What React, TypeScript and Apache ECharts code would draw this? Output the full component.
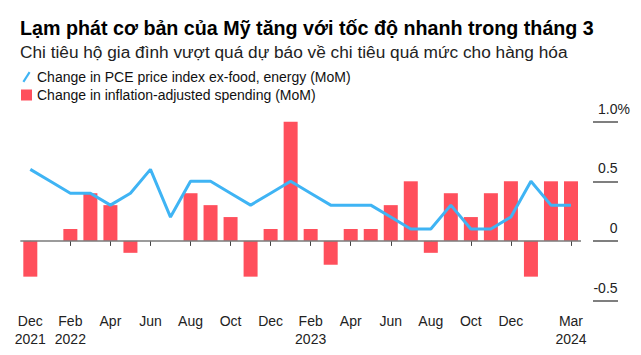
import React, { useEffect, useRef } from 'react';
import * as echarts from 'echarts';

const months = [
  'Dec\n2021', 'Jan', 'Feb\n2022', 'Mar', 'Apr', 'May', 'Jun', 'Jul', 'Aug', 'Sep', 'Oct', 'Nov',
  'Dec', 'Jan', 'Feb\n2023', 'Mar', 'Apr', 'May', 'Jun', 'Jul', 'Aug', 'Sep', 'Oct', 'Nov',
  'Dec', 'Jan', 'Feb', 'Mar\n2024',
];
const pceCoreMoM = [
  0.6, 0.5, 0.4, 0.4, 0.3, 0.4, 0.6, 0.2, 0.5, 0.5, 0.4, 0.3,
  0.4, 0.5, 0.4, 0.3, 0.3, 0.3, 0.2, 0.1, 0.1, 0.3, 0.1, 0.1,
  0.2, 0.5, 0.3, 0.3,
];
const realSpendingMoM = [
  -0.3, 0.0, 0.1, 0.4, 0.3, -0.1, 0.0, 0.0, 0.4, 0.3, 0.2, -0.3,
  0.1, 1.0, 0.1, -0.2, 0.1, 0.1, 0.3, 0.5, -0.1, 0.4, 0.2, 0.4,
  0.5, -0.3, 0.5, 0.5,
];

const TITLE = 'Lạm phát cơ bản của Mỹ tăng với tốc độ nhanh trong tháng 3';
const SUBTITLE = 'Chi tiêu hộ gia đình vượt quá dự báo về chi tiêu quá mức cho hàng hóa';
const LINE_NAME = 'Change in PCE price index ex-food, energy (MoM)';
const BAR_NAME = 'Change in inflation-adjusted spending (MoM)';

const FONT = "'Liberation Sans', Arial, Helvetica, sans-serif";
const BLUE = '#3fb4f4';
const RED = '#ff4f5c';

const showTick = (i: number) => (i % 2 === 0 && i <= 24) || i === 27;

export default function App() {
  const ref = useRef<HTMLDivElement>(null);
  useEffect(() => {
    if (!ref.current) return;
    const chart = echarts.init(ref.current, undefined, { renderer: 'svg' });
    chart.setOption({
      animation: false,
      textStyle: { fontFamily: FONT },
      title: [
        {
          text: TITLE,
          left: 15,
          top: 13,
          textStyle: { fontFamily: FONT, fontSize: 19.7, fontWeight: 'bold', color: '#000' },
        },
        {
          text: SUBTITLE,
          left: 15,
          top: 38.5,
          textStyle: { fontFamily: FONT, fontSize: 17.25, fontWeight: 'normal', color: '#222' },
        },
      ],
      legend: {
        orient: 'vertical',
        left: 16,
        top: 65,
        itemWidth: 11,
        itemHeight: 11,
        itemGap: 4,
        selectedMode: false,
        textStyle: { fontFamily: FONT, fontSize: 14, color: '#111' },
        data: [
          { name: LINE_NAME, icon: 'path://M0,11 L7,0 L9,1.4 L2,12.4 Z' },
          { name: BAR_NAME, icon: 'path://M0,0 L10,0 L10,10 L0,10 Z' },
        ],
      },
      grid: { left: 20.3, right: 60, top: 121.7, bottom: 54.5 },
      xAxis: {
        type: 'category',
        data: months,
        axisLine: { show: false },
        axisTick: {
          show: true,
          alignWithLabel: true,
          interval: (i: number) => showTick(i),
          length: 5,
          lineStyle: { color: '#444', width: 1 },
        },
        axisLabel: {
          interval: (i: number) => showTick(i),
          fontFamily: FONT,
          fontSize: 14,
          lineHeight: 18,
          margin: 11,
          color: '#222',
        },
      },
      yAxis: {
        type: 'value',
        position: 'right',
        min: -0.5,
        max: 1.0,
        interval: 0.5,
        offset: 12,
        axisLine: { show: false },
        splitLine: { show: false },
        axisTick: { show: true, length: 25, lineStyle: { color: '#555', width: 1.5 } },
        axisLabel: {
          align: 'right',
          verticalAlign: 'bottom',
          margin: 37,
          padding: [0, 0, 6, 0],
          fontFamily: FONT,
          fontSize: 14,
          lineHeight: 14,
          color: '#222',
          formatter: (v: number) => {
            if (v === 1) return '1.0%';
            const s = v === 0 ? '0' : v.toFixed(1);
            return s + '{h|%}';
          },
          rich: { h: { color: 'transparent', fontSize: 14, fontFamily: FONT, lineHeight: 14 } },
        },
      },
      series: [
        {
          name: BAR_NAME,
          type: 'bar',
          data: realSpendingMoM,
          barWidth: 14,
          itemStyle: { color: RED },
          z: 2,
          markLine: {
            silent: true,
            symbol: 'none',
            label: { show: false },
            lineStyle: { color: '#7a7a7a', width: 1.5, type: 'solid' },
            data: [{ yAxis: 0 }],
          },
        },
        {
          name: LINE_NAME,
          type: 'line',
          data: pceCoreMoM,
          showSymbol: false,
          symbol: 'none',
          color: BLUE,
          itemStyle: { color: BLUE },
          lineStyle: { color: BLUE, width: 3 },
          z: 3,
        },
      ],
    });
    return () => chart.dispose();
  }, []);
  return (
    <div
      ref={ref}
      style={{ position: 'fixed', left: 0, top: 0, width: 641, height: 355, background: '#fff' }}
    />
  );
}
